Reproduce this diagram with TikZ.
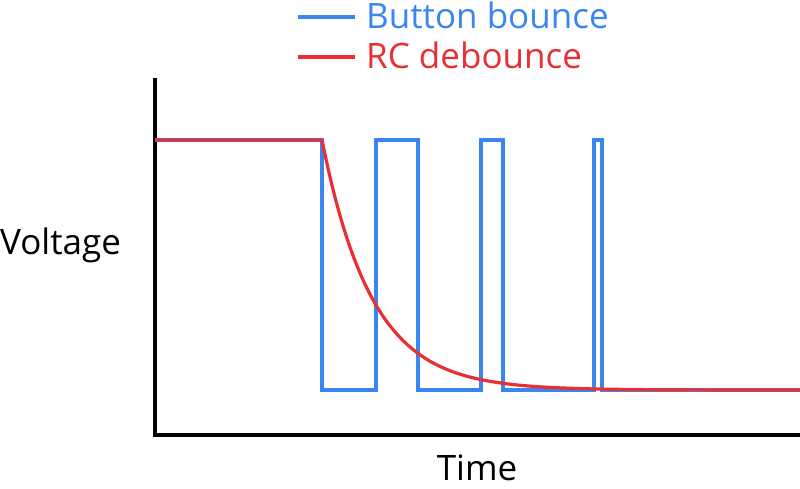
\documentclass[tikz,border=0pt]{standalone}
\usepackage{fontspec}
\setmainfont{Open Sans}
\usetikzlibrary{positioning}

\begin{document}
\begin{tikzpicture}[x=1pt, y=-1pt,
	axis/.style = {line width=3.2pt, black},
	bounce/.style = {line width=3.2pt, color={rgb,255:red,58;green,134;blue,240}},
	rc/.style = {line width=3.2pt, color={rgb,255:red,232;green,48;blue,52}},
	lbl/.style = {font=\fontsize{35}{40}\selectfont, inner sep=0pt},
     ]
		\useasboundingbox (0,0) rectangle (800,488);
%
		\draw[axis] (155,78) -- (155,435) -- (800,435);
		\node[lbl, anchor=west] (volt) at (0,245) {Voltage};
		\node[lbl] (time) at (477,468) {Time};
%
		\draw[bounce] (155,140) -- (322,140) -- (322,390) -- (376,390) -- (376,140)
		  -- (418,140) -- (418,390) -- (481,390) -- (481,140) -- (503,140)
		  -- (503,390) -- (594,390) -- (594,140) -- (602,140) -- (602,390) -- (800,390);
		\draw[rc] (155,140) -- (322,140)
		  plot[domain=322:800, samples=120, smooth] (\x,{390-250*exp(-(\x-322)/50)});
%
		\coordinate (b1) at (298,17);
		\coordinate (b2) at (355,17);
		\draw[bounce] (b1) -- (b2);
		\node[lbl, anchor=west, text={rgb,255:red,58;green,134;blue,240}] (btn) at (366,15) {Button bounce};
		\coordinate (r1) at (298,57);
		\coordinate (r2) at (355,57);
		\draw[rc] (r1) -- (r2);
		\node[lbl, anchor=west, text={rgb,255:red,232;green,48;blue,52}] (deb) at (366,55) {RC debounce};
\end{tikzpicture}
\end{document}
